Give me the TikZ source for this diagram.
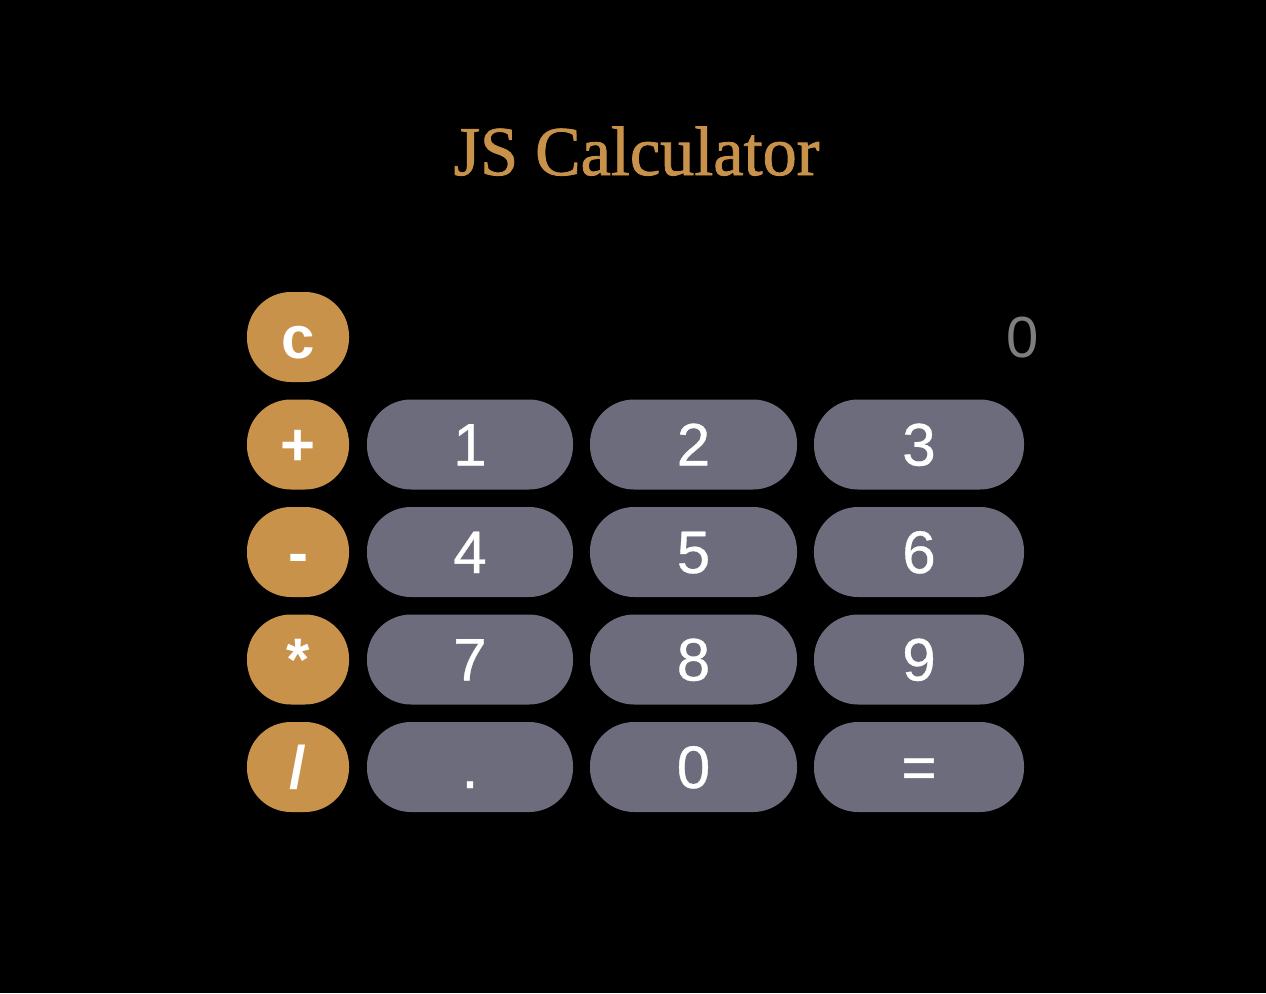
\documentclass[tikz,border=0pt]{standalone}
\usepackage{fontspec}
\setmainfont{Liberation Sans}
\newfontfamily\titlefont[FakeBold=1.2]{Liberation Serif}
\newfontfamily\numfont[FakeBold=0.6]{Liberation Sans}
\definecolor{calcorange}{HTML}{C8924A}
\definecolor{calcgray}{HTML}{6D6C7C}
\definecolor{displaygray}{HTML}{7E7E7E}
\tikzset{
  opbtn/.style={fill=calcorange, draw=none, rounded corners=44pt},
  numbtn/.style={fill=calcgray, draw=none, rounded corners=44pt},
  optext/.style={text=white, anchor=base, inner sep=0pt, font=\fontsize{60}{60}\selectfont\bfseries},
  numtext/.style={text=white, anchor=base, inner sep=0pt, font=\numfont\fontsize{60}{60}\selectfont},
}
\begin{document}
\begin{tikzpicture}[x=1pt,y=-1pt]
\fill[black] (0,0) rectangle (1266,993);
\useasboundingbox (0,0) rectangle (1266,993);
% title
\node[text=calcorange, anchor=base, inner sep=0pt, xscale=0.975, transform shape, font=\titlefont\fontsize{70}{70}\selectfont] (title) at (636.5,175) {JS Calculator};
% display
\node[text=displaygray, anchor=base east, inner sep=0pt, font=\fontsize{58}{58}\selectfont] (display) at (1039,357) {0};
% operator buttons
\foreach \r/\lab/\nm in {0/c/c, 1/+/plus, 2/-/minus, 3/*/times, 4/\slash/divide}{
  \pgfmathsetmacro{\yt}{292+107.5*\r}
  \path[opbtn] (247,\yt) rectangle ++(102,90);
  \node[optext] (op\nm) at (298,\yt+66) {\lab};
}
% number buttons
\foreach \r/\a/\b/\cc in {1/1/2/3, 2/4/5/6, 3/7/8/9, 4/./0/=}{
  \pgfmathsetmacro{\yt}{292+107.5*\r}
  \path[numbtn] (367,\yt) rectangle ++(206,90);
  \node[numtext] (n\r a) at (470,\yt+66) {\a};
  \path[numbtn] (590,\yt) rectangle ++(207,90);
  \node[numtext] (n\r b) at (693.5,\yt+66) {\b};
  \path[numbtn] (814,\yt) rectangle ++(210,90);
  \node[numtext] (n\r c) at (919,\yt+66) {\cc};
}
\end{tikzpicture}
\end{document}
